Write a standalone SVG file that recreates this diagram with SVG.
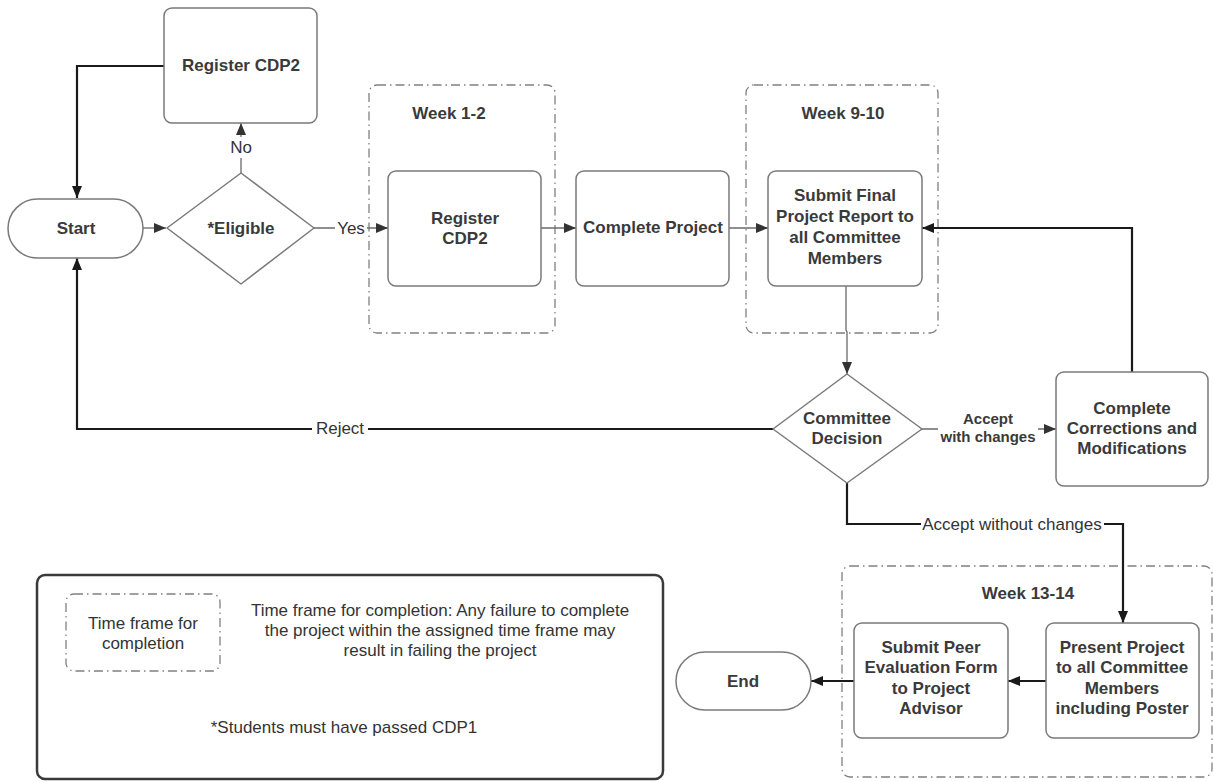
<svg xmlns="http://www.w3.org/2000/svg" width="1213" height="782" viewBox="0 0 1213 782">
<defs>
<style>
.box{fill:#fff;stroke:#7a7a7a;stroke-width:1.5}
.frame{fill:none;stroke:#808080;stroke-width:1.3;stroke-dasharray:9 4 1.5 4}
.b{font-family:"Liberation Sans",Arial,sans-serif;font-weight:bold;font-size:17px;fill:#3a3a3a;text-anchor:middle;dominant-baseline:central}
.r{font-family:"Liberation Sans",Arial,sans-serif;font-size:17px;fill:#333;text-anchor:middle;dominant-baseline:central}
.thick{fill:none;stroke:#1a1a1a;stroke-width:2.2}
.thin{fill:none;stroke:#6a6a6a;stroke-width:1.3}
.lbg{fill:#fff}
</style>
<marker id="ah" viewBox="0 0 12 10" refX="12" refY="5" markerWidth="12" markerHeight="10" markerUnits="userSpaceOnUse" orient="auto"><path d="M0,0 L12,5 L0,10 z" fill="#1a1a1a"/></marker>
<marker id="ag" viewBox="0 0 12 10" refX="12" refY="5" markerWidth="12" markerHeight="10" markerUnits="userSpaceOnUse" orient="auto"><path d="M0,0 L12,5 L0,10 z" fill="#333"/></marker>
</defs>
<rect width="1213" height="782" fill="#fff"/>

<g id="frames">
<rect id="week1-2" class="frame" x="369" y="85" width="186" height="248" rx="8"/>
<rect id="week9-10" class="frame" x="746" y="85" width="192" height="248" rx="8"/>
<rect id="week13-14" class="frame" x="842" y="566" width="370" height="211" rx="8"/>
<text class="b" x="449" y="113">Week 1-2</text>
<text class="b" x="843" y="113">Week 9-10</text>
<text class="b" x="1028" y="593">Week 13-14</text>
</g>

<g id="connectors">
<path class="thick" d="M164,66 H77 V198" marker-end="url(#ah)"/>
<path class="thin" d="M143,228 H166" marker-end="url(#ag)"/>
<path class="thin" d="M241,173 V123" marker-end="url(#ag)"/>
<rect class="lbg" x="228" y="137" width="26" height="21"/>
<text class="r" x="241" y="147">No</text>
<path class="thin" d="M314,228 H388" marker-end="url(#ag)"/>
<rect class="lbg" x="335" y="218" width="32" height="20"/>
<text class="r" x="351" y="228">Yes</text>
<path class="thin" d="M541,228 H576" marker-end="url(#ag)"/>
<path class="thin" d="M729,228 H768" marker-end="url(#ag)"/>
<path class="thin" d="M846,286 V330 L847,332 V374" marker-end="url(#ag)"/>
<path class="thick" d="M773,429 H77 V258" marker-end="url(#ah)"/>
<rect class="lbg" x="312" y="418" width="56" height="21"/>
<text class="r" x="340" y="428">Reject</text>
<path class="thin" d="M922,429 H1056" marker-end="url(#ag)"/>
<rect class="lbg" x="938" y="408" width="100" height="36"/>
<text class="b" style="font-size:15px" x="988" y="418">Accept</text>
<text class="b" style="font-size:15px" x="988" y="436">with changes</text>
<path class="thick" d="M1132,372 V228 H922" marker-end="url(#ah)"/>
<path class="thick" d="M847,483 V524 H1123 V623" marker-end="url(#ah)"/>
<rect class="lbg" x="921" y="513" width="183" height="21"/>
<text class="r" x="1012" y="524">Accept without changes</text>
<path class="thick" d="M1046,681 H1008" marker-end="url(#ah)"/>
<path class="thick" d="M854,681 H811" marker-end="url(#ah)"/>
</g>

<g id="register-top">
<rect class="box" x="164" y="8" width="153" height="115" rx="8"/>
<text class="b" x="241" y="65">Register CDP2</text>
</g>
<g id="start">
<rect class="box" x="8" y="199" width="135" height="59" rx="29.5"/>
<text class="b" x="76" y="228">Start</text>
</g>
<g id="eligible">
<polygon class="box" stroke-linejoin="round" points="241,173 314,228 241,284 167,228"/>
<text class="b" x="241" y="228">*Eligible</text>
</g>
<g id="register-cdp2">
<rect class="box" x="388" y="171" width="153" height="115" rx="8"/>
<text class="b" x="465" y="218">Register</text>
<text class="b" x="465" y="238">CDP2</text>
</g>
<g id="complete-project">
<rect class="box" x="576" y="171" width="153" height="115" rx="8"/>
<text class="b" x="653" y="227">Complete Project</text>
</g>
<g id="submit-final">
<rect class="box" x="768" y="171" width="154" height="115" rx="8"/>
<text class="b" x="845" y="195">Submit Final</text>
<text class="b" x="845" y="216">Project Report to</text>
<text class="b" x="845" y="237">all Committee</text>
<text class="b" x="845" y="258">Members</text>
</g>
<g id="committee-decision">
<polygon class="box" stroke-linejoin="round" points="847,374 922,429 847,483 773,429"/>
<text class="b" x="847" y="418">Committee</text>
<text class="b" x="847" y="438">Decision</text>
</g>
<g id="corrections">
<rect class="box" x="1056" y="372" width="152" height="114" rx="8"/>
<text class="b" x="1132" y="408">Complete</text>
<text class="b" x="1132" y="428">Corrections and</text>
<text class="b" x="1132" y="448">Modifications</text>
</g>
<g id="present">
<rect class="box" x="1046" y="623" width="153" height="115" rx="8"/>
<text class="b" x="1122" y="647">Present Project</text>
<text class="b" x="1122" y="667">to all Committee</text>
<text class="b" x="1122" y="688">Members</text>
<text class="b" x="1122" y="708">including Poster</text>
</g>
<g id="submit-peer">
<rect class="box" x="854" y="623" width="154" height="115" rx="8"/>
<text class="b" x="931" y="647">Submit Peer</text>
<text class="b" x="931" y="667">Evaluation Form</text>
<text class="b" x="931" y="688">to Project</text>
<text class="b" x="931" y="708">Advisor</text>
</g>
<g id="end">
<rect class="box" x="676" y="652" width="135" height="58" rx="29"/>
<text class="b" x="743" y="681">End</text>
</g>

<g id="legend">
<rect x="37" y="575" width="626" height="204" rx="8" fill="#fff" stroke="#3a3a3a" stroke-width="2.5"/>
<rect class="frame" x="66" y="594" width="154" height="77" rx="8"/>
<text class="r" x="143" y="623">Time frame for</text>
<text class="r" x="143" y="643">completion</text>
<text class="r" x="440" y="610">Time frame for completion: Any failure to complete</text>
<text class="r" x="440" y="630">the project within the assigned time frame may</text>
<text class="r" x="440" y="650">result in failing the project</text>
<text class="r" x="344" y="727">*Students must have passed CDP1</text>
</g>
</svg>
